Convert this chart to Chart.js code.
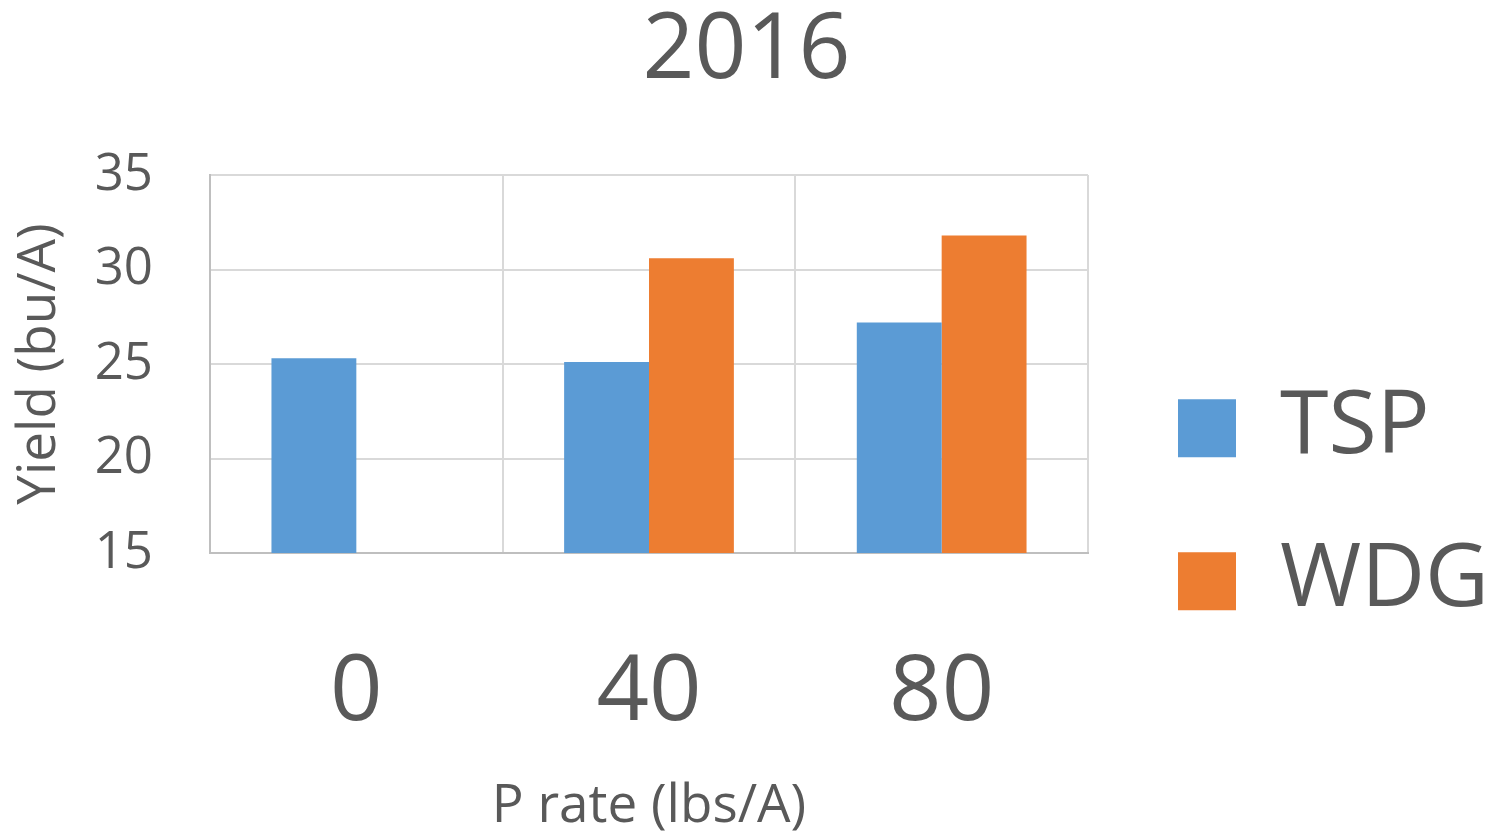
<!DOCTYPE html>
<html>
<head>
<meta charset="utf-8">
<script src="https://cdn.jsdelivr.net/npm/chart.js@4.4.1/dist/chart.umd.min.js"></script>
<style>
  html, body { margin: 0; padding: 0; background: #ffffff; }
  #wrap { position: relative; width: 1493px; height: 833px; }
</style>
</head>
<body>
<div id="wrap"><canvas id="yieldChart"></canvas></div>
<script>
// 2016 yield by P rate
const pRates = ['0', '40', '80'];
const tspYield = [25.3, 25.1, 27.2];
const wdgYield = [null, 30.6, 31.8];
const yTicks = [15, 20, 25, 30, 35];

const textColor = '#595959';
const fontFamily = "'Open Sans', 'Noto Sans', sans-serif";

// legend is wider than chart.js allows by default, so widen it after fit
const legendWidthPlugin = {
    id: 'legendWidth',
    beforeInit(chart) {
        const originalFit = chart.legend.fit;
        chart.legend.fit = function fit() {
            originalFit.bind(chart.legend)();
            this.width = 380;
        };
    }
};

function initYieldChart() {
    const ctx = document.getElementById('yieldChart').getContext('2d');

    new Chart(ctx, {
        type: 'bar',
        data: {
            labels: pRates,
            datasets: [
                {
                    label: 'TSP',
                    data: tspYield,
                    backgroundColor: '#5B9BD5',
                    categoryPercentage: 0.58,
                    barPercentage: 1.0
                },
                {
                    label: 'WDG',
                    data: wdgYield,
                    backgroundColor: '#ED7D31',
                    categoryPercentage: 0.58,
                    barPercentage: 1.0
                }
            ]
        },
        plugins: [legendWidthPlugin],
        options: {
            responsive: true,
            maintainAspectRatio: false,
            animation: false,
            plugins: {
                title: {
                    display: true,
                    text: '2016',
                    color: textColor,
                    font: { family: fontFamily, size: 91, weight: 'normal', lineHeight: 1.0 },
                    padding: { top: 7, bottom: 77 }
                },
                legend: {
                    position: 'right',
                    title: {
                        display: true,
                        text: '',
                        padding: { top: 0, bottom: 162 }
                    },
                    labels: {
                        color: textColor,
                        font: { family: fontFamily, size: 88 },
                        boxWidth: 58,
                        boxHeight: 58,
                        padding: 65
                    }
                },
                tooltip: { enabled: false }
            },
            scales: {
                x: {
                    afterFit: function(scale) {
                        scale.height = 280;
                    },
                    grid: { color: '#d9d9d9', lineWidth: 2, drawTicks: false, offset: true },
                    border: { color: '#bfbfbf', width: 2 },
                    ticks: {
                        color: textColor,
                        font: { family: fontFamily, size: 92 },
                        padding: 86
                    },
                    title: {
                        display: true,
                        text: 'P rate (lbs/A)',
                        color: textColor,
                        font: { family: fontFamily, size: 53, lineHeight: 1.0 },
                        padding: { top: 30, bottom: 0 }
                    }
                },
                y: {
                    min: 15,
                    max: 35,
                    afterBuildTicks: function(scale) {
                        scale.ticks = yTicks.map(v => ({ value: v }));
                    },
                    afterFit: function(scale) {
                        scale.width = 210;
                    },
                    grid: { color: '#d9d9d9', lineWidth: 2, drawTicks: false },
                    border: { color: '#bfbfbf', width: 2 },
                    ticks: {
                        color: textColor,
                        font: { family: fontFamily, size: 51 },
                        padding: 57
                    },
                    title: {
                        display: true,
                        text: 'Yield (bu/A)',
                        color: textColor,
                        font: { family: fontFamily, size: 53 },
                        padding: { top: 8, bottom: 0 }
                    }
                },
                // empty axis that keeps a gap between the plot and the legend
                spacer: {
                    type: 'linear',
                    position: 'right',
                    grid: { display: false },
                    border: { display: false },
                    ticks: { display: false },
                    afterFit: function(scale) {
                        scale.width = 25;
                    }
                }
            }
        }
    });
}

document.addEventListener('DOMContentLoaded', initYieldChart);
</script>
</body>
</html>
